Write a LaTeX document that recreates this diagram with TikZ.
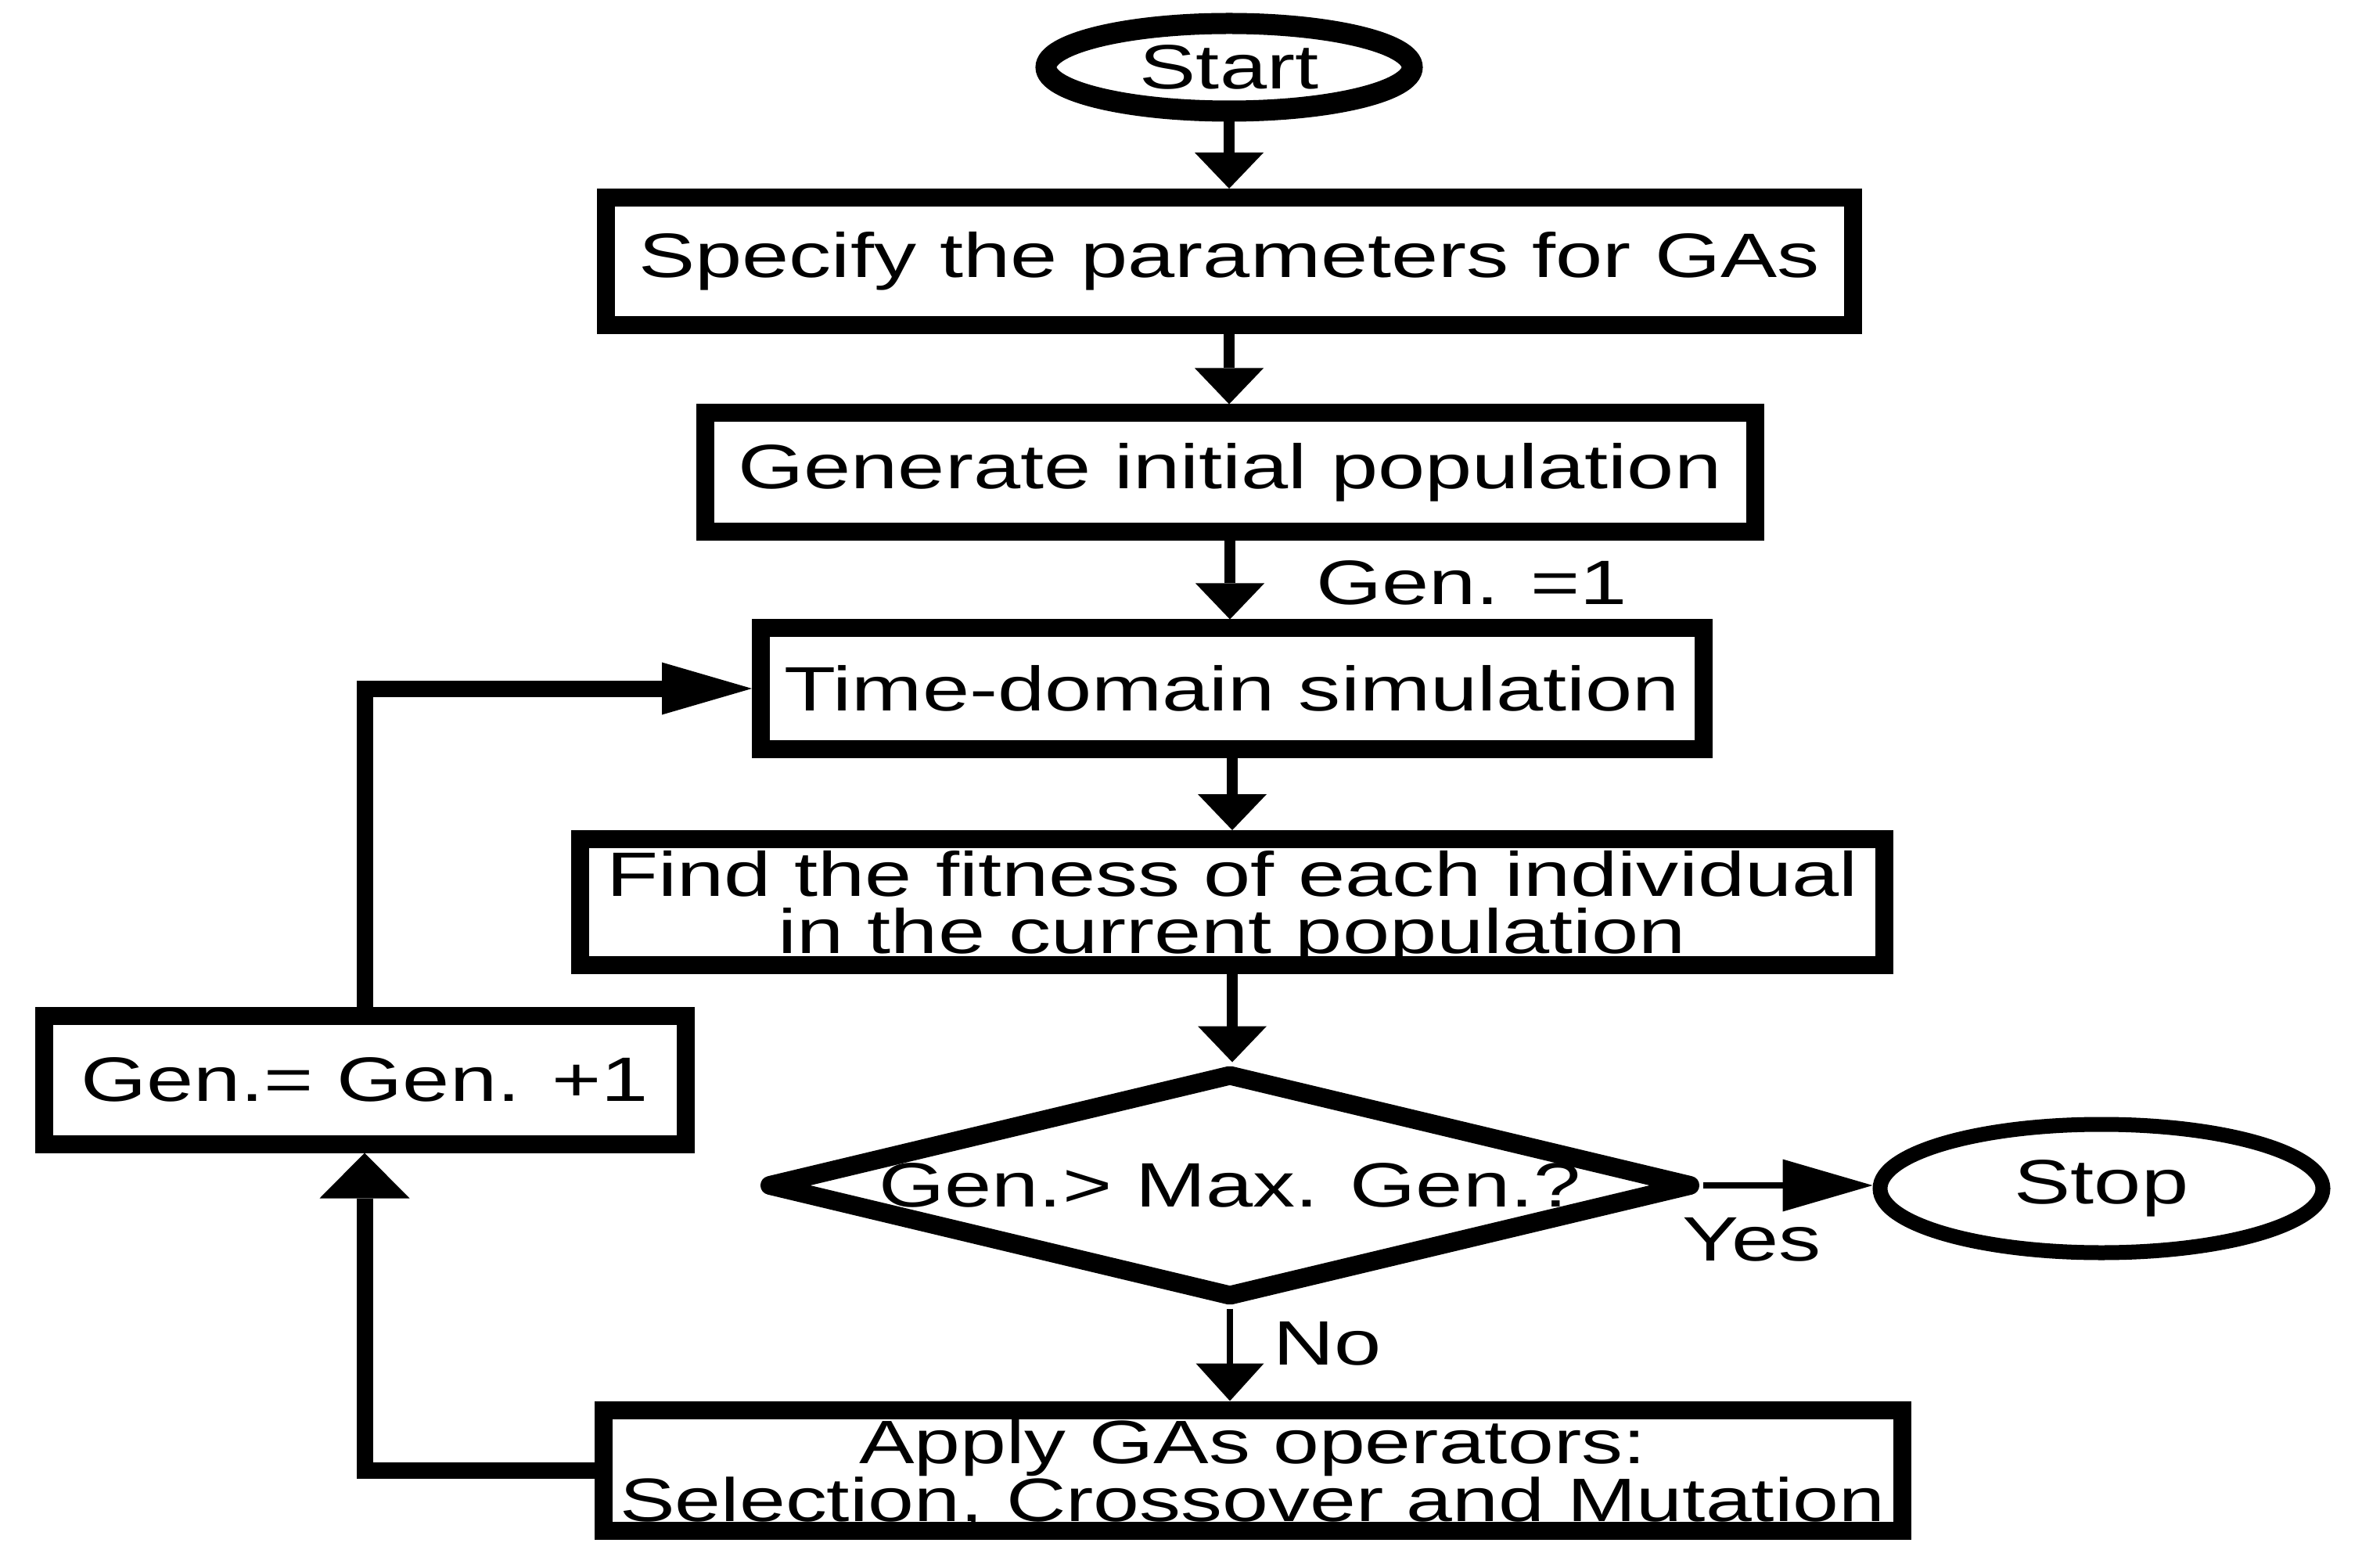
\documentclass[tikz,border=0pt]{standalone}
\usepackage{fontspec}
\setmainfont[FakeStretch=1.35]{Liberation Sans}
\usetikzlibrary{arrows.meta,positioning,shapes.geometric,calc}

\begin{document}
\begin{tikzpicture}[
  stepbox/.style={draw, line width=2.3mm, inner sep=0pt, align=center, font=\fontsize{22.8}{21}\selectfont},
  twoline/.style={stepbox, text depth=0pt},
  term/.style={ellipse, draw, line width=2mm, inner sep=0pt, font=\fontsize{22.8}{21.5}\selectfont},
  decide/.style={diamond, aspect=4.03, draw, line width=2.4mm, line join=round, inner sep=0pt, font=\fontsize{22.8}{21.5}\selectfont},
  lbl/.style={inner sep=0pt, font=\fontsize{22.8}{21.5}\selectfont},
  arr/.style={-{Triangle[length=4.6mm, width=8.8mm, line width=0pt]}, line width=1.4mm},
  thinarr/.style={-{Triangle[length=4.8mm, width=8.7mm, line width=0pt]}, line width=0.8mm},
  loopline/.style={line width=2.1mm}
]
\useasboundingbox (0,0) rectangle (30.19,-20.04);

\node[term, line width=2.7mm, minimum width=4.68cm, minimum height=1.12cm] (start) at (15.71,-0.86) {Start};
\node[stepbox, minimum width=15.94cm, minimum height=1.63cm] (spec) at (15.71,-3.34) {Specify the parameters for GAs};
\node[stepbox, minimum width=13.42cm, minimum height=1.52cm] (init) at (15.72,-6.04) {Generate initial population};
\node[stepbox, minimum width=12.05cm, minimum height=1.54cm] (sim) at (15.75,-8.80) {Time-domain simulation};
\node[twoline, minimum width=16.67cm, minimum height=1.61cm] (fit) at (15.75,-11.53) {Find the fitness of each individual\\in the current population};
\node[decide, minimum width=11.86cm, minimum height=2.91cm] (check) at (15.72,-15.15) {Gen.> Max. Gen.?};
\node[term, line width=1.9mm, minimum width=5.66cm, minimum height=1.64cm] (stop) at (26.86,-15.19) {Stop};
\node[stepbox, minimum width=8.20cm, minimum height=1.64cm] (incr) at (4.66,-13.80) {Gen.= Gen. +1};
\node[twoline, minimum width=16.60cm, minimum height=1.54cm, font=\fontsize{22.3}{21}\selectfont] (ops) at (16.01,-18.79) {Apply GAs operators:\\Selection, Crossover and Mutation};

\node[lbl] (g1) at (18.81,-7.45) {Gen. =1};
\node[lbl] (yes) at (22.39,-15.84) {Yes};
\node[lbl] (no) at (16.97,-17.17) {No};

\draw[arr] (start.south) -- (start.south |- spec.north);
\draw[arr] (spec.south) -- (spec.south |- init.north);
\draw[arr] (init.south) -- (init.south |- sim.north);
\draw[arr] (sim.south) -- (sim.south |- fit.north);
\draw[arr] (fit.south) -- (fit.south |- check.north);
\draw[thinarr] (check.south) -- (check.south |- ops.north);
\draw[thinarr, -{Triangle[length=11.5mm, width=6.7mm, line width=0pt]}] (check.east) -- (check.east -| stop.west);

% loop back
\draw[loopline, -{Triangle[length=5.8mm, width=11.5mm, line width=0pt]}] (ops.west) -| (incr.south);
\draw[loopline, -{Triangle[length=11.5mm, width=6.7mm, line width=0pt]}] (incr.north) |- (sim.west);
\end{tikzpicture}
\end{document}
